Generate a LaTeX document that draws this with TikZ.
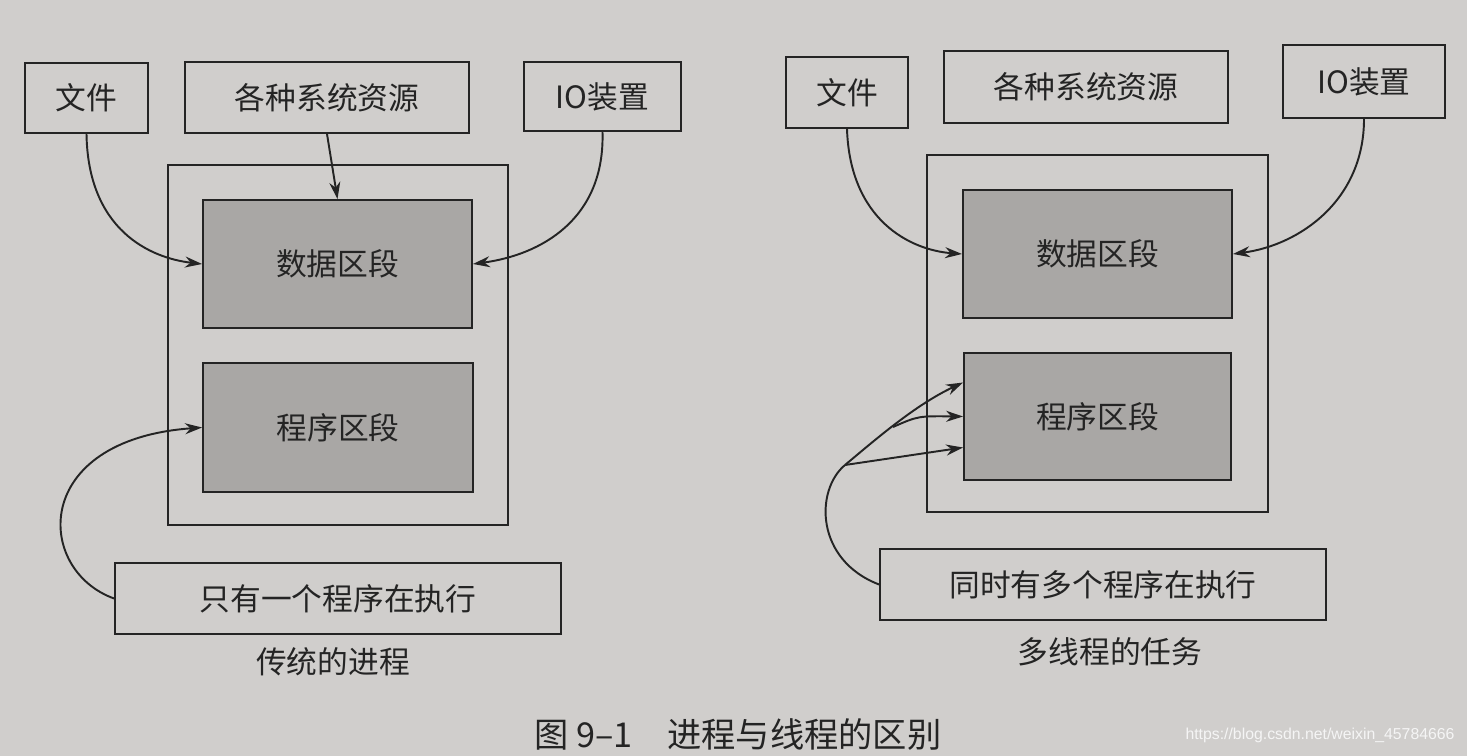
\documentclass[tikz,border=0pt]{standalone}
\usepackage{fontspec}
\newfontfamily\cjk{Noto Sans CJK SC}
\newfontfamily\wmfont{Liberation Sans}
\usetikzlibrary{arrows.meta,calc}
\definecolor{paper}{HTML}{D0CECC}
\definecolor{segfill}{HTML}{A9A7A5}
\definecolor{ink}{HTML}{242424}
\begin{document}
\begin{tikzpicture}[x=0.02cm,y=-0.02cm,
  box/.style={draw=ink,line width=1.1pt,inner sep=0pt,font=\cjk\fontsize{17.5}{20}\selectfont,text=ink},
  seg/.style={box,fill=segfill},
  frame/.style={draw=ink,line width=1.1pt,inner sep=0pt},
  captext/.style={font=\cjk\fontsize{17.5}{20}\selectfont,text=ink},
  arr/.style={draw=ink,line width=1.1pt,-{Stealth[length=3.4mm,width=2.2mm]}},
  lin/.style={draw=ink,line width=1.1pt}]
\fill[paper] (0,0) rectangle (1467,756);
\useasboundingbox (0,0) rectangle (1467,756);
% ---------- left: traditional process ----------
\node[frame,minimum width=6.8cm,minimum height=7.2cm] (o1) at (338,345) {};
\node[box,minimum width=2.46cm,minimum height=1.4cm] (f1) at (86.5,98) {文件};
\node[box,minimum width=5.68cm,minimum height=1.42cm] (r1) at (327,97.5) {各种系统资源};
\node[box,minimum width=3.14cm,minimum height=1.38cm] (io1) at (602.5,96.5) {IO装置};
\node[seg,minimum width=5.38cm,minimum height=2.56cm] (d1) at (337.5,264) {数据区段};
\node[seg,minimum width=5.4cm,minimum height=2.58cm] (p1) at (338,427.5) {程序区段};
\node[box,minimum width=8.92cm,minimum height=1.42cm] (s1) at (338,598.5) {只有一个程序在执行};
\node[captext] (c1) at (333,662) {传统的进程};
\draw[arr] (f1.south) .. controls (88,230) and (150,258) .. (d1.west);
\draw[arr] (r1.south) -- (d1.north);
\draw[arr] (io1.south) .. controls (605,220) and (540,255) .. (d1.east);
\draw[arr] (s1.west) .. controls (35,570) and (30,440) .. (p1.west);
% ---------- right: multi-threaded task ----------
\node[frame,minimum width=6.82cm,minimum height=7.14cm] (o2) at (1097.5,333.5) {};
\node[box,minimum width=2.44cm,minimum height=1.42cm] (f2) at (847,92.5) {文件};
\node[box,minimum width=5.68cm,minimum height=1.44cm] (r2) at (1086,87) {各种系统资源};
\node[box,minimum width=3.24cm,minimum height=1.46cm] (io2) at (1364,81.5) {IO装置};
\node[seg,minimum width=5.38cm,minimum height=2.56cm] (d2) at (1097.5,254) {数据区段};
\node[seg,minimum width=5.34cm,minimum height=2.54cm] (p2) at (1097.5,416.5) {程序区段};
\node[box,minimum width=8.92cm,minimum height=1.42cm] (s2) at (1103,584.5) {同时有多个程序在执行};
\node[captext] (c2) at (1110,652) {多线程的任务};
\draw[arr] (f2.south) .. controls (850,220) and (910,250) .. (d2.west);
\draw[arr] (io2.south) .. controls (1364,200) and (1300,245) .. (d2.east);
\coordinate (b2) at (845,465);
\coordinate (m2) at (893,427);
\draw[lin] (s2.west) .. controls (815,560) and (815,490) .. (b2);
\draw[arr] (b2) .. controls (875,440) and (915,405) .. ($(p2.west)+(0,-34)$);
\draw[arr] (m2) .. controls (918,416) .. ($(p2.west)+(0,0)$);
\draw[arr] (b2) -- ($(p2.west)+(0,31)$);
% ---------- captions ----------
\node[font=\cjk\fontsize{19.5}{22}\selectfont,text=ink] (main) at (738,734) {图 9–1\quad 进程与线程的区别};
\node[font=\wmfont\fontsize{9}{11}\selectfont,text=white!92!gray] (wm) at (1320,735) {https://blog.csdn.net/weixin\_45784666};
\end{tikzpicture}
\end{document}
